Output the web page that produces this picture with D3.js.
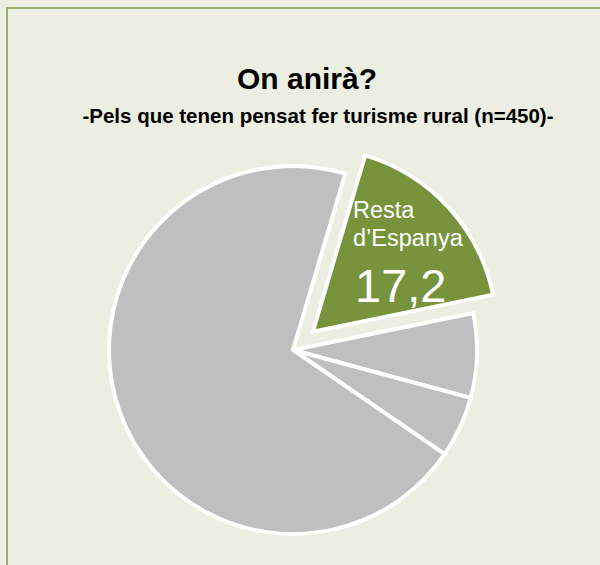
<!DOCTYPE html>
<html><head><meta charset="utf-8">
<script src="https://cdn.jsdelivr.net/npm/d3@7"></script>
<style>body{margin:0;background:#fff}svg{display:block}</style>
</head><body>
<script>
const categories = ["Resta d\u2019Espanya", "Estranger", "NS/NC", "Catalunya"];
const values = [17.2, 7.4, 5.4, 70.0];
const highlighted = "Resta d\u2019Espanya";
const title = "On anirà?";
const subtitle = "-Pels que tenen pensat fer turisme rural (n=450)-";

const W = 600, H = 565;
const svg = d3.select("body").append("svg").attr("width", W).attr("height", H);
svg.append("rect").attr("width", W).attr("height", H).attr("fill", "#EBEEE0");
svg.append("path").attr("d", `M7,${H} L7,8 L${W},8`).attr("fill", "none")
  .attr("stroke", "#9BAF6F").attr("stroke-width", 2);

svg.append("text").attr("x", 307).attr("y", 89).attr("text-anchor", "middle")
  .attr("font-family", "Liberation Sans, Arial, sans-serif").attr("font-weight", "bold")
  .attr("font-size", 30).attr("fill", "#000").text(title);
svg.append("text").attr("x", 318).attr("y", 123).attr("text-anchor", "middle")
  .attr("font-family", "Liberation Sans, Arial, sans-serif").attr("font-weight", "bold")
  .attr("font-size", 20.5).attr("fill", "#000").text(subtitle);

const cx = 293, cy = 350, R = 184;
const start = 16.5 * Math.PI / 180;
const data = categories.map((c, i) => ({ cat: c, value: values[i] }));
const pie = d3.pie().value(d => d.value).sort(null).startAngle(start).endAngle(start + 2 * Math.PI);
const arc = d3.arc().innerRadius(0).outerRadius(R);
const arcs = pie(data);
const g = svg.append("g").attr("transform", `translate(${cx},${cy})`);
const explode = 27;
g.selectAll("path").data(arcs).join("path")
  .attr("d", arc)
  .attr("transform", d => {
    if (d.data.cat !== highlighted) return null;
    const a = (d.startAngle + d.endAngle) / 2;
    return `translate(${explode * Math.sin(a)},${-explode * Math.cos(a)})`;
  })
  .attr("fill", d => d.data.cat === highlighted ? "#77933C" : "#BFBFBF")
  .attr("stroke", "#fff").attr("stroke-width", 4).attr("stroke-linejoin", "miter");

const hd = arcs.find(d => d.data.cat === highlighted);
const lg = svg.append("g").attr("font-family", "Liberation Sans, Arial, sans-serif").attr("fill", "#fff");
lg.append("text").attr("x", 353).attr("y", 218).attr("font-size", 23.5).text("Resta");
lg.append("text").attr("x", 353).attr("y", 246).attr("font-size", 23.5).text("d\u2019Espanya");
lg.append("text").attr("x", 355).attr("y", 302).attr("font-size", 47)
  .text(d3.format(".1f")(hd.data.value).replace(".", ","));
</script>
</body></html>
